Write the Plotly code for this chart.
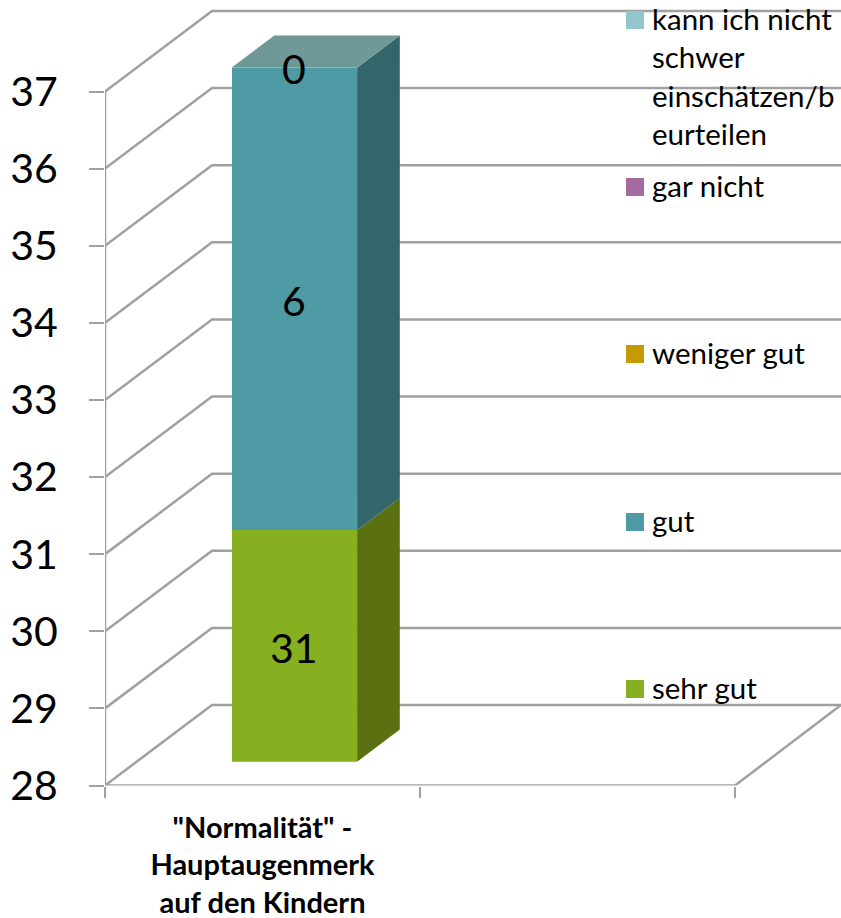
import plotly.graph_objects as go

# --- data ---
category = '"Normalität" -<br>Hauptaugenmerk<br>auf den Kindern'
series_names = ["sehr gut", "gut", "weniger gut", "gar nicht", "kann ich nicht schwer einschätzen/beurteilen"]
series_values = [31, 6, 0, 0, 0]
series_labels = ["31", "6", "", "", "0"]
front_colors = ["#86b01f", "#4e9aa5", "#c49a00", "#a56ba1", "#93c6cd"]
side_colors = ["#5a7011", "#33666a", "#7c6100", "#683f66", "#5d8086"]
top_color = "#6f9899"
y_ticks = [28, 29, 30, 31, 32, 33, 34, 35, 36, 37]
x_cat_ticks = [0, 1, 2]
legend_text = ["sehr gut", "gut", "weniger gut", "gar nicht",
               "kann ich nicht<br>schwer<br>einschätzen/b<br>eurteilen"]
legend_box_top_px = [680, 513, 345, 178, 11]

# --- layout constants (pixels) ---
W, H = 841, 918
X0, X_UNIT = 105.0, 315.0          # x=0 pixel, pixels per category
Y28, Y_UNIT = 785.5, 77.11         # pixel of value 28, pixels per unit
WALL_DX, WALL_DY = 107 / X_UNIT, 80.5 / Y_UNIT   # depth of the chart floor
BAR_X_PX, BAR_Y_PX = 31.8, 23.8     # bar offset into the depth
BAR_DX, BAR_DY = 42.7 / X_UNIT, 32.3 / Y_UNIT    # depth of the bar
BAR_W = 125.6 / X_UNIT
GRID = "#a0a0a0"
FONT = "Lato"

fig = go.Figure()

# Walls and gridlines
x_end = (W - X0) / X_UNIT
for v in y_ticks[1:]:
    fig.add_trace(go.Scatter(x=[0, WALL_DX, x_end], y=[v, v + WALL_DY, v + WALL_DY], mode="lines",
                             line=dict(color=GRID, width=2.5), hoverinfo="skip", showlegend=False, cliponaxis=False))
fig.add_trace(go.Scatter(x=[0, 2, x_end, WALL_DX, 0],
                         y=[28, 28, 28 + WALL_DY, 28 + WALL_DY, 28], mode="lines",
                         line=dict(color=GRID, width=2.5), hoverinfo="skip", showlegend=False, cliponaxis=False))
fig.add_trace(go.Scatter(x=[0, 0], y=[28, 37], mode="lines",
                         line=dict(color=GRID, width=2.5), hoverinfo="skip", showlegend=False, cliponaxis=False))

# Bars
bar_x = 0.5
for name, val, col in zip(series_names, series_values, front_colors):
    fig.add_trace(go.Bar(x=[bar_x], y=[val], name=name, width=BAR_W, marker=dict(color=col, line=dict(width=0)),
                         xaxis="x2", yaxis="y2", showlegend=False))

# Bar depth faces and data labels
shapes, annotations = [], []
xr = bar_x + BAR_W / 2
xl = bar_x - BAR_W / 2
base = 0
for val, col, lab in zip(series_values, side_colors, series_labels):
    lo, hi = max(base, 28), base + val
    if lab:
        annotations.append(dict(xref="x2", yref="y2", x=bar_x, y=(lo + hi) / 2, yshift=-1, text=lab, showarrow=False,
                                xanchor="center", yanchor="middle", borderpad=0,
                                font=dict(family=FONT, size=41, color="#000000")))
    if val > 0:
        fig.add_trace(go.Scatter(x=[xr, xr, xr + BAR_DX, xr + BAR_DX, xr], y=[lo, hi, hi + BAR_DY, lo + BAR_DY, lo],
                                 mode="lines", line=dict(width=0), fill="toself", fillcolor=col, hoverinfo="skip",
                                 showlegend=False, xaxis="x2", yaxis="y2"))
    base += val
fig.add_trace(go.Scatter(x=[xl, xr, xr + BAR_DX, xl + BAR_DX, xl],
                         y=[base, base, base + BAR_DY, base + BAR_DY, base],
                         mode="lines", line=dict(width=0), fill="toself", fillcolor=top_color, hoverinfo="skip",
                         showlegend=False, xaxis="x2", yaxis="y2"))

# Legend drawn by hand, Excel-style
for txt, col, top in zip(legend_text, front_colors, legend_box_top_px):
    shapes.append(dict(type="rect", xref="paper", yref="paper", x0=626 / W, x1=644 / W,
                       y0=1 - (top + 18) / H, y1=1 - top / H, fillcolor=col, line=dict(width=0), layer="above"))
    annotations.append(dict(xref="paper", yref="paper", x=651 / W, y=1 - (top - 11) / H,
                            xanchor="left", yanchor="top", align="left", showarrow=False, text=txt, borderpad=0,
                            font=dict(family=FONT, size=29.5, color="#000000")))

y_top = 28 + Y28 / Y_UNIT
y2_top = 28 + (Y28 - BAR_Y_PX) / Y_UNIT
fig.update_layout(
    width=W, height=H, margin=dict(l=0, r=0, t=0, b=0), paper_bgcolor="white", plot_bgcolor="rgba(0,0,0,0)",
    barmode="stack", showlegend=False, shapes=shapes, annotations=annotations,
    font=dict(family=FONT, color="#000000"),
    xaxis=dict(domain=[X0 / W, 1], range=[0, x_end], showgrid=False, zeroline=False, showline=False, automargin=False,
               tickmode="array", tickvals=[0.5], ticktext=[category], ticks="", ticklabelstandoff=22,
               tickfont=dict(family=FONT, size=29, color="#000000", weight="bold"),
               minor=dict(tickmode="array", tickvals=x_cat_ticks, ticks="outside", ticklen=11, tickwidth=2,
                          tickcolor=GRID, showgrid=False),
               anchor="y"),
    yaxis=dict(domain=[(H - Y28) / H, 1], range=[28, y_top], showgrid=False, zeroline=False, showline=False,
               automargin=False, tickmode="array", tickvals=y_ticks, ticks="outside", ticklen=15, tickwidth=2,
               tickcolor=GRID, ticklabelstandoff=23, tickfont=dict(family=FONT, size=41, color="#000000"), anchor="x"),
    xaxis2=dict(domain=[(X0 + BAR_X_PX) / W, 1], range=[0, (W - X0 - BAR_X_PX) / X_UNIT], visible=False, anchor="y2",
                automargin=False),
    yaxis2=dict(domain=[(H - Y28 + BAR_Y_PX) / H, 1], range=[28, y2_top], visible=False, anchor="x2",
                automargin=False),
)
# The page's default 8px body margin would clip the fixed-size figure.
fig.write_html("out.html", config=dict(displayModeBar=False),
               post_script="document.body.style.margin='0';document.body.style.overflow='hidden';")
